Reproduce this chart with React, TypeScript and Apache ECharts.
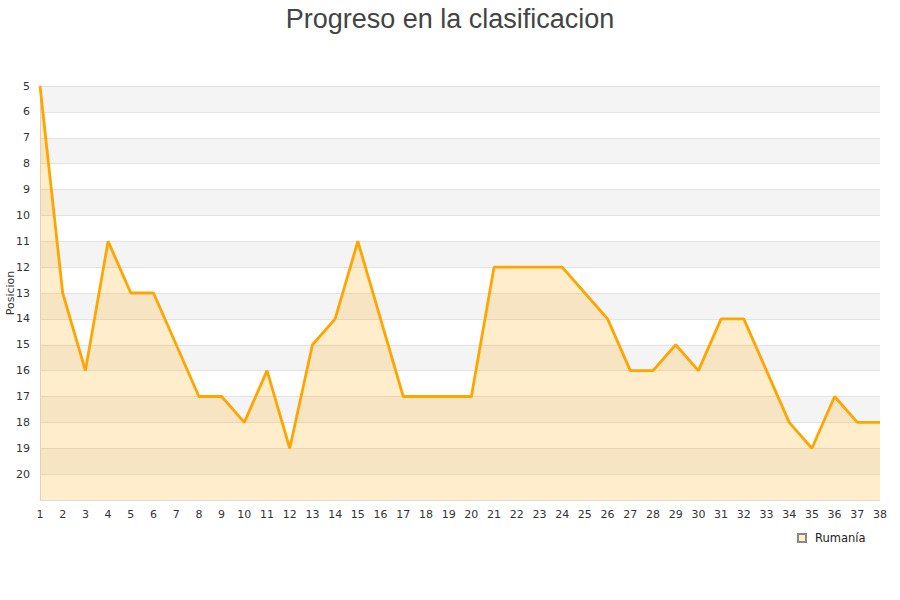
import React, { useEffect, useRef } from "react";
import * as echarts from "echarts";

const jornadas: string[] = Array.from({ length: 38 }, (_, i) => String(i + 1));
const posiciones: number[] = [
  5, 13, 16, 11, 13, 13, 15, 17, 17, 18, 16, 19, 15, 14, 11, 14, 17, 17, 17, 17,
  12, 12, 12, 12, 13, 14, 16, 16, 15, 16, 14, 14, 16, 18, 19, 17, 18, 18,
];
const seriesName = "Rumanía";
const titleText = "Progreso en la clasificacion";
const yAxisName = "Posicion";

export default function App() {
  const ref = useRef<HTMLDivElement>(null);
  useEffect(() => {
    if (!ref.current) return;
    const chart = echarts.init(ref.current, undefined, { renderer: "svg" });
    chart.setOption({
      animation: false,
      textStyle: { fontFamily: "DejaVu Sans" },
      title: {
        text: titleText,
        left: "center",
        top: 0,
        textStyle: {
          fontFamily: "Liberation Sans",
          fontSize: 27,
          fontWeight: "normal",
          color: "#444",
        },
      },
      legend: {
        data: [{ name: seriesName, icon: "rect" }],
        left: 792,
        top: 527,
        itemWidth: 8,
        itemHeight: 8,
        itemGap: 8,
        textStyle: {
          fontSize: 11.5,
          color: "#222",
          fontFamily: "DejaVu Sans",
          padding: [0, 0, 0, 4],
        },
      },
      grid: {
        left: 40,
        right: 20,
        top: 86,
        bottom: 100,
        containLabel: false,
        outerBoundsMode: "none",
      },
      xAxis: {
        type: "category",
        data: jornadas,
        boundaryGap: false,
        axisLine: { lineStyle: { color: "#ddd", width: 1 } },
        axisTick: { show: false },
        axisLabel: { interval: 0, fontSize: 11, color: "#333", margin: 9 },
        splitLine: { show: false },
      },
      yAxis: {
        type: "value",
        inverse: true,
        min: 5,
        max: 21,
        interval: 1,
        name: yAxisName,
        nameLocation: "middle",
        nameGap: 24,
        nameMoveOverlap: false,
        nameTextStyle: { fontSize: 11, color: "#333" },
        axisLine: { show: true, lineStyle: { color: "#ddd", width: 1 } },
        axisTick: { show: false },
        axisLabel: {
          fontSize: 11,
          color: "#333",
          margin: 10,
          formatter: (v: number) => (v === 21 ? "" : String(v)),
        },
        splitLine: { show: true, lineStyle: { color: "#e2e2e2", width: 1 } },
        splitArea: { show: true, areaStyle: { color: ["#f4f4f4", "#ffffff"] } },
      },
      series: [
        {
          name: seriesName,
          type: "line",
          data: posiciones,
          symbol: "none",
          lineStyle: { color: "#FFA500", width: 2.8 },
          itemStyle: { color: "#FFEDCC", borderColor: "#888", borderWidth: 1 },
          areaStyle: { color: "#FFA500", opacity: 0.2, origin: "end" },
        },
      ],
    });
    return () => chart.dispose();
  }, []);
  return <div ref={ref} style={{ width: 900, height: 600, position: "absolute", left: 0, top: 0 }} />;
}
